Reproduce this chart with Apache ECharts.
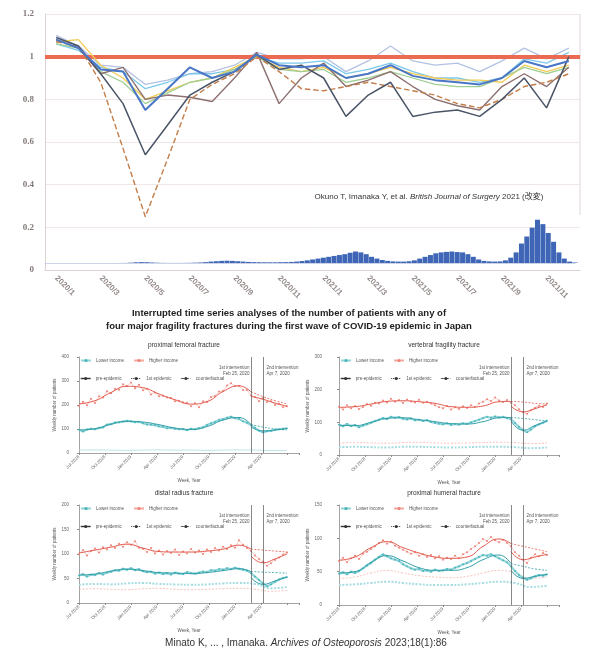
<!DOCTYPE html>
<html>
<head>
<meta charset="utf-8">
<script src="https://cdn.jsdelivr.net/npm/echarts/dist/echarts.min.js"></script>
<style>
html,body{margin:0;padding:0;background:#fff;}
#chart{width:589px;height:653px;}
</style>
</head>
<body>
<div id="chart"></div>
<script>
// ---------- Upper figure: monthly surgical volume ratio vs. pre-pandemic ----------
const monthLabels = ['2020/1','2020/2','2020/3','2020/4','2020/5','2020/6','2020/7','2020/8','2020/9','2020/10','2020/11','2020/12',
                     '2021/1','2021/2','2021/3','2021/4','2021/5','2021/6','2021/7','2021/8','2021/9','2021/10','2021/11','2021/12'];
const baselineRatio = 1;
const paleBlue    = [1.10,1.05,0.96,0.95,0.87,0.89,0.92,0.93,0.96,1.02,0.99,0.99,1.00,0.93,0.98,1.05,0.98,0.96,0.97,0.93,0.98,1.04,0.99,1.04];
const lightBlue   = [1.06,1.03,0.95,0.93,0.85,0.88,0.92,0.92,0.94,1.00,0.97,0.97,0.98,0.92,0.94,0.97,0.93,0.90,0.90,0.88,0.90,0.99,0.97,1.02];
const yellowLine  = [1.07,1.08,0.96,0.90,0.80,0.84,0.88,0.90,0.95,1.00,0.95,0.93,0.95,0.90,0.92,0.95,0.92,0.90,0.89,0.89,0.88,0.96,0.93,0.96];
const greenLine   = [1.06,1.04,0.93,0.88,0.78,0.83,0.88,0.90,0.94,1.00,0.94,0.93,0.94,0.88,0.90,0.93,0.90,0.87,0.86,0.86,0.90,0.95,0.92,0.95];
const blueLine    = [1.08,1.04,0.94,0.93,0.75,0.85,0.95,0.90,0.93,1.01,0.96,0.95,0.96,0.90,0.92,0.96,0.91,0.89,0.88,0.87,0.90,0.98,0.95,0.98];
const brownGray   = [1.08,1.04,0.92,0.95,0.80,0.82,0.81,0.79,0.90,1.02,0.78,0.90,0.97,0.86,0.89,0.93,0.86,0.80,0.77,0.75,0.86,0.92,0.86,0.95];
const darkSlate   = [1.09,1.05,0.92,0.78,0.54,0.68,0.82,0.88,0.93,1.01,0.94,0.96,0.90,0.72,0.82,0.88,0.72,0.74,0.75,0.72,0.80,0.90,0.76,1.00];
const brownDashed = [1.07,1.05,0.88,0.57,0.25,0.52,0.80,0.87,0.92,1.00,0.93,0.85,0.84,0.86,0.88,0.86,0.84,0.82,0.78,0.76,0.80,0.86,0.88,0.92];

// Weekly-averaged daily new COVID-19 cases in Japan (overlay)
const covidCases = [0,0,0,0,0,0,0,0,0,0,
  0,0,5,10,20,50,
  200,400,500,450,300,150,
  80,40,30,40,60,100,200,
  300,500,800,1000,1200,1300,1200,1000,800,600,500,450,400,400,400,450,500,600,800,1100,
  1500,2000,2500,3000,3500,4000,4500,5000,5800,6500,6000,5000,3500,2500,1700,1200,900,800,800,1000,1500,
  2500,3500,4500,5500,6000,6300,6500,6200,6000,5000,3500,2000,1200,900,800,900,
  1500,3000,6000,11000,15000,20000,24500,22000,17000,12000,6000,2500,800,300];

// ---------- Lower figure: weekly fracture counts, interrupted time series ----------
const panelTickLabels = ['Jul 2018','Oct 2018','Jan 2019','Apr 2019','Jul 2019','Oct 2019','Jan 2020','Apr 2020'];
const firstIntervention = 86.3;   // Feb 25, 2020
const secondIntervention = 92.3;  // Apr 7, 2020
const fitWeeks = [0,8,16,24,32,40,48,56,64,72,80,86];
const epiWeeks = [86,92,98,104];
const baseWeeks = [0,8,16,24,32,40,48,56,64,72,80,88,96,104];

// proximal femoral fracture
const femurHighObs = [196,214,199,226,208,236,231,257,249,268,264,286,279,294,270,284,261,268,244,252,236,239,231,229,216,218,211,209,195,207,191,216,213,233,238,256,258,281,291,279,279,262,263,241,233,216,229,213,216,200,204,191,195];
const femurLowObs  = [97,90,98,101,99,105,107,118,120,127,128,131,134,132,128,130,124,119,118,116,111,109,103,105,101,99,100,95,101,99,104,107,117,124,130,138,141,147,151,145,142,132,126,116,105,93,86,91,92,97,99,101,103];
const femurHighPre = [205,218,252,278,272,246,222,204,214,256,280,255];
const femurLowPre  = [96,101,120,132,129,118,104,98,110,137,148,118];
const femurHighEpi = [236,224,208,195];
const femurLowEpi  = [108,92,96,102];
const femurHighCf  = [255,235,218,205];
const femurLowCf   = [118,108,100,96];
const femurBaseLow = [12,13,12,11,12,13,12,12,11,12,13,12,10,10];

// vertebral fragility fracture
const spineHighObs = [148,139,152,143,150,141,147,156,151,160,158,167,161,172,163,168,159,170,164,161,169,160,163,158,152,146,143,150,139,146,141,149,144,152,147,158,163,171,165,176,167,162,168,160,152,140,131,126,137,145,151,147,158];
const spineLowObs  = [93,88,95,89,92,85,90,94,99,104,108,113,110,117,114,116,111,109,112,106,108,104,107,101,98,96,94,97,92,95,93,97,95,100,104,108,113,117,114,118,115,117,113,110,98,86,76,70,78,88,94,99,105];
const spineHighPre = [146,148,156,164,166,163,158,148,146,150,163,164];
const spineLowPre  = [91,90,100,112,114,108,102,96,95,102,114,115];
const spineHighEpi = [150,132,142,154];
const spineLowEpi  = [104,76,90,104];
const spineHighCf  = [164,162,158,156];
const spineLowCf   = [115,112,108,104];
const spineBaseHigh = [36,38,37,36,38,39,37,36,37,38,39,38,35,37];
const spineBaseLow  = [24,25,24,23,25,25,24,23,24,25,25,24,21,23];

// distal radius fracture
const radiusHighObs = [100,108,97,106,111,103,114,109,118,112,121,115,124,119,126,113,110,104,112,101,107,99,106,102,109,98,105,101,110,103,107,100,109,104,112,107,115,110,118,113,128,119,112,106,97,90,84,76,81,88,93,99,103];
const radiusLowObs  = [56,59,54,58,57,61,58,62,64,67,66,70,68,71,67,69,65,63,64,60,62,59,61,58,62,60,59,63,61,60,62,64,63,67,66,69,68,71,69,72,70,68,66,61,54,47,40,34,38,43,48,51,53];
const radiusHighPre = [102,108,114,120,112,105,104,104,106,110,118,110];
const radiusLowPre  = [57,59,65,69,66,62,61,60,62,66,70,64];
const radiusHighEpi = [96,82,90,100];
const radiusLowEpi  = [52,38,45,53];
const radiusHighCf  = [110,108,106,104];
const radiusLowCf   = [64,63,62,61];
const radiusBaseHigh = [28,29,28,27,29,30,28,27,28,29,30,28,24,26];
const radiusBaseLow  = [37,39,38,40,41,39,38,37,38,40,41,39,30,33];

// proximal humeral fracture
const humerusHighObs = [66,71,64,70,74,69,77,80,84,88,93,97,92,95,89,86,83,80,77,79,74,76,72,75,70,73,68,71,69,74,70,76,79,84,88,93,99,96,102,97,94,98,93,88,79,74,68,63,71,76,73,78,75];
const humerusLowObs  = [47,49,46,50,48,51,55,59,63,68,72,76,73,70,68,66,61,58,55,53,54,51,52,50,53,51,52,54,53,56,58,61,63,66,69,72,75,74,76,73,70,67,64,58,51,45,41,38,40,43,45,44,46];
const humerusHighPre = [67,72,86,95,86,78,72,70,72,88,99,92];
const humerusLowPre  = [48,50,64,74,66,56,52,52,56,68,75,62];
const humerusHighEpi = [80,68,72,76];
const humerusLowEpi  = [52,40,43,46];
const humerusHighCf  = [92,88,84,80];
const humerusLowCf   = [62,58,54,52];
const humerusBaseHigh = [40,42,48,52,48,44,42,41,43,48,52,48,40,42];
const humerusBaseLow  = [30,31,33,35,33,31,30,30,31,33,35,33,27,29];

// ---------- layout ----------
const SANS = "'Liberation Sans', Arial, sans-serif";
const SERIF = "'Liberation Serif', 'DejaVu Serif', serif";
const RED = '#e35a4e', RED_OBS = '#ee8378', RED_LINE = '#f4aaa1';
const CYAN = '#2f9ea7', CYAN_OBS = '#47b4bc', CYAN_LINE = '#93d5d9';

const panels = [
  {title:'proximal femoral fracture', grid:{left:79, top:357, width:220, height:96}, yMax:400, yStep:100, axisOffset:7,
   highObs:femurHighObs, lowObs:femurLowObs, highPre:femurHighPre, lowPre:femurLowPre, highEpi:femurHighEpi, lowEpi:femurLowEpi,
   highCf:femurHighCf, lowCf:femurLowCf, baseHigh:null, baseLow:femurBaseLow},
  {title:'vertebral fragility fracture', grid:{left:339, top:357, width:220, height:98}, yMax:300, yStep:100, axisOffset:14,
   highObs:spineHighObs, lowObs:spineLowObs, highPre:spineHighPre, lowPre:spineLowPre, highEpi:spineHighEpi, lowEpi:spineLowEpi,
   highCf:spineHighCf, lowCf:spineLowCf, baseHigh:spineBaseHigh, baseLow:spineBaseLow},
  {title:'distal radius fracture', grid:{left:79, top:505, width:220, height:98}, yMax:200, yStep:50, axisOffset:7,
   highObs:radiusHighObs, lowObs:radiusLowObs, highPre:radiusHighPre, lowPre:radiusLowPre, highEpi:radiusHighEpi, lowEpi:radiusLowEpi,
   highCf:radiusHighCf, lowCf:radiusLowCf, baseHigh:radiusBaseHigh, baseLow:radiusBaseLow},
  {title:'proximal humeral fracture', grid:{left:339, top:505, width:220, height:100}, yMax:150, yStep:50, axisOffset:14,
   highObs:humerusHighObs, lowObs:humerusLowObs, highPre:humerusHighPre, lowPre:humerusLowPre, highEpi:humerusHighEpi, lowEpi:humerusLowEpi,
   highCf:humerusHighCf, lowCf:humerusLowCf, baseHigh:humerusBaseHigh, baseLow:humerusBaseLow}
];

const obsWeeks = humerusHighObs.map((_, i) => i * 2);
const pair = (weeks, vals) => vals.map((v, i) => [weeks[i], v]);

const grids = [
  {left:45, top:14, width:535, height:256},
  {left:45, top:210, width:530, height:53}
].concat(panels.map(p => p.grid));

const xAxes = [
  {gridIndex:0, type:'category', data:monthLabels, boundaryGap:true,
   axisLine:{lineStyle:{color:'#ddd3d3'}}, axisTick:{show:false},
   axisLabel:{interval:1, rotate:-45, fontSize:8, color:'#958a8a', margin:7, fontFamily:SANS, fontWeight:'bold'}},
  {gridIndex:1, type:'value', min:0, max:covidCases.length - 1,
   axisLine:{show:true, lineStyle:{color:'#cdd2e6'}}, axisTick:{show:false}, axisLabel:{show:false}, splitLine:{show:false}}
];
const yAxes = [
  {gridIndex:0, type:'value', min:0, max:1.2, interval:0.2,
   axisLine:{show:true, lineStyle:{color:'#dcd0d0'}}, axisTick:{show:false},
   axisLabel:{fontSize:9, color:'#857a7a', margin:11, fontFamily:SERIF, fontWeight:'bold'},
   splitLine:{lineStyle:{color:'#efe6e6'}}},
  {gridIndex:1, type:'value', min:0, max:30000, show:false}
];

panels.forEach((p, k) => {
  const gi = k + 2;
  xAxes.push({gridIndex:gi, type:'value', min:0, max:110, interval:13,
    name:'Week, Year', nameLocation:'middle', nameGap:25, nameTextStyle:{fontSize:4.5, color:'#555', fontFamily:SANS},
    axisLine:{onZero:false, lineStyle:{color:'#8c8c8c', width:0.8}}, axisTick:{length:2, lineStyle:{color:'#8c8c8c'}},
    axisLabel:{rotate:45, fontSize:4.5, color:'#666', margin:3, fontFamily:SANS,
      formatter: v => panelTickLabels[Math.round(v / 13)] || ''},
    splitLine:{show:false}});
  yAxes.push({gridIndex:gi, type:'value', min:0, max:p.yMax, interval:p.yStep, offset:p.axisOffset,
    name:'Weekly number of patients', nameLocation:'middle', nameGap:15, nameTextStyle:{fontSize:4.5, color:'#555', fontFamily:SANS},
    axisLine:{show:true, lineStyle:{color:'#8c8c8c', width:0.8}}, axisTick:{show:true, length:2, lineStyle:{color:'#8c8c8c'}},
    axisLabel:{fontSize:4.5, color:'#666', margin:3, fontFamily:SANS}, splitLine:{show:false}});
});

// ---------- series ----------
const series = [];
const topLines = [
  {data:paleBlue,    color:'#b3c2e2', width:1.3},
  {data:lightBlue,   color:'#7cc8ea', width:1.3},
  {data:yellowLine,  color:'#f2cc55', width:1.3},
  {data:greenLine,   color:'#9fcd92', width:1.3},
  {data:brownGray,   color:'#8e7070', width:1.4},
  {data:brownDashed, color:'#c27d4a', width:1.4, type:'dashed'},
  {data:darkSlate,   color:'#4b5568', width:1.5},
  {data:blueLine,    color:'#4a76c6', width:2}
];
topLines.forEach((l, i) => {
  series.push({type:'line', xAxisIndex:0, yAxisIndex:0, data:l.data, symbol:'none', silent:true, z:3 + i,
    lineStyle:{color:l.color, width:l.width, type:l.type || 'solid'}});
});
series.push({type:'line', xAxisIndex:0, yAxisIndex:0, data:[], symbol:'none', silent:true, z:20,
  markLine:{symbol:'none', silent:true, label:{show:false}, lineStyle:{color:'#ec6a52', width:4, type:'solid'},
    data:[{yAxis:baselineRatio}]}});
series.push({type:'bar', xAxisIndex:1, yAxisIndex:1, data:pair(covidCases.map((_, i) => i), covidCases),
  barWidth:5, itemStyle:{color:'#3f66b6'}, silent:true, z:2});

panels.forEach((p, k) => {
  const ax = {xAxisIndex:k + 2, yAxisIndex:k + 2, silent:true};
  if (p.baseHigh) series.push({...ax, type:'line', name:'reference', data:pair(baseWeeks, p.baseHigh), symbol:'none', smooth:true,
    lineStyle:{color:'#f4b5ad', width:0.8, type:[2, 1.5]}, z:2});
  if (p.baseLow) series.push({...ax, type:'line', name:'reference', data:pair(baseWeeks, p.baseLow), symbol:'none', smooth:true,
    lineStyle:{color:'#a7dde1', width:k === 0 ? 0.8 : 2, type: k === 0 ? 'solid' : [2, 1.5]}, z:2});
  series.push({...ax, type:'line', name:'Lower income', data:pair(obsWeeks, p.lowObs), symbol:'circle', symbolSize:1.8,
    itemStyle:{color:CYAN_OBS}, lineStyle:{color:CYAN_LINE, width:2.2}, z:3});
  series.push({...ax, type:'line', name:'Higher income', data:pair(obsWeeks, p.highObs), symbol:'circle', symbolSize:2,
    itemStyle:{color:RED_OBS}, lineStyle:{color:RED_LINE, width:0.6}, z:3,
    markLine:{symbol:'none', silent:true, label:{show:false}, lineStyle:{color:'#555', width:0.7, type:'solid'},
      data:[{xAxis:firstIntervention}, {xAxis:secondIntervention}]}});
  [[p.lowPre, CYAN], [p.highPre, RED]].forEach(([d, c]) => series.push({...ax, type:'line', name:'pre-epidemic',
    data:pair(fitWeeks, d), symbol:'none', smooth:true, lineStyle:{color:c, width:1}, z:4}));
  [[p.lowEpi, CYAN], [p.highEpi, RED]].forEach(([d, c]) => series.push({...ax, type:'line', name:'1st epidemic',
    data:pair(epiWeeks, d), symbol:'none', smooth:true, lineStyle:{color:c, width:1}, z:4}));
  [[p.lowCf, CYAN], [p.highCf, RED]].forEach(([d, c]) => series.push({...ax, type:'line', name:'counterfactual',
    data:pair(epiWeeks, d), symbol:'none', smooth:true, lineStyle:{color:c, width:0.8, type:[2, 1.5]}, z:4}));
});

// ---------- legends inside each panel ----------
const legends = [];
panels.forEach(p => {
  const common = {orient:'horizontal', selectedMode:false, itemWidth:10, itemHeight:4, itemGap:9,
    textStyle:{fontSize:4.5, color:'#555', fontFamily:SANS}, padding:0};
  legends.push({...common, left:p.grid.left + 1, top:p.grid.top + 1, data:['Lower income', 'Higher income']});
  legends.push({...common, left:p.grid.left + 1, top:p.grid.top + 19, data:[
    {name:'pre-epidemic', itemStyle:{color:'#333'}, lineStyle:{color:'#333', width:1.4, type:'solid'}},
    {name:'1st epidemic', itemStyle:{color:'#333'}, lineStyle:{color:'#333', width:1, type:'dotted'}},
    {name:'counterfactual', itemStyle:{color:'#333'}, lineStyle:{color:'#333', width:0.8, type:'dashed'}}]});
});

// ---------- free text ----------
const staticText = [
  {type:'line', shape:{x1:580, y1:14, x2:580, y2:215}, style:{stroke:'#e2d8d8', lineWidth:1}, silent:true},
  {type:'text', x:429, y:197, silent:true, style:{
    text:'{n|Okuno T, Imanaka Y, et al. }{j|British Journal of Surgery}{n| 2021 (改変)}',
    textAlign:'center', textVerticalAlign:'middle',
    rich:{n:{fontSize:8, fontFamily:SANS + ", 'Noto Sans CJK JP'", fill:'#333', color:'#333'},
          j:{fontSize:8, fontFamily:SANS, fontStyle:'italic', fill:'#333', color:'#333'}}}},
  {type:'text', x:289, y:313, silent:true, style:{text:'Interrupted time series analyses of the number of patients with any of',
    font:'bold 9.5px ' + SANS, fill:'#222', textAlign:'center', textVerticalAlign:'middle'}},
  {type:'text', x:289, y:326, silent:true, style:{text:'four major fragility fractures during the first wave of COVID-19 epidemic in Japan',
    font:'bold 9.5px ' + SANS, fill:'#222', textAlign:'center', textVerticalAlign:'middle'}},
  {type:'text', x:306, y:643, silent:true, style:{
    text:'{n|Minato K, ... , Imanaka. }{j|Archives of Osteoporosis}{n| 2023;18(1):86}',
    textAlign:'center', textVerticalAlign:'middle',
    rich:{n:{fontSize:10, fontFamily:SANS, fill:'#333', color:'#333'},
          j:{fontSize:10, fontFamily:SANS, fontStyle:'italic', fill:'#333', color:'#333'}}}}
];
panels.forEach(p => {
  staticText.push({type:'text', x:p.grid.left + p.grid.width / 2 - 5, y:p.grid.top - 12, silent:true,
    style:{text:p.title, font:'6.5px ' + SANS, fill:'#333', textAlign:'center', textVerticalAlign:'middle'}});
});

const chart = echarts.init(document.getElementById('chart'), null, {renderer:'canvas'});
chart.setOption({
  animation:false,
  backgroundColor:'#ffffff',
  grid:grids, xAxis:xAxes, yAxis:yAxes, legend:legends, series:series,
  graphic:staticText
});

// intervention annotations placed at the vertical reference weeks
const notes = [];
panels.forEach((p, k) => {
  const gi = k + 2;
  const x1 = chart.convertToPixel({xAxisIndex:gi}, firstIntervention);
  const x2 = chart.convertToPixel({xAxisIndex:gi}, secondIntervention);
  const y = p.grid.top + 14;
  notes.push({type:'text', x:x1 - 2, y:y, silent:true, style:{text:'1st intervention\nFeb 25, 2020',
    font:'4.5px ' + SANS, fill:'#555', textAlign:'right', textVerticalAlign:'middle', lineHeight:6}});
  notes.push({type:'text', x:x2 + 3, y:y, silent:true, style:{text:'2nd intervention\nApr 7, 2020',
    font:'4.5px ' + SANS, fill:'#555', textAlign:'left', textVerticalAlign:'middle', lineHeight:6}});
});
chart.setOption({graphic:staticText.concat(notes)});
</script>
</body>
</html>
